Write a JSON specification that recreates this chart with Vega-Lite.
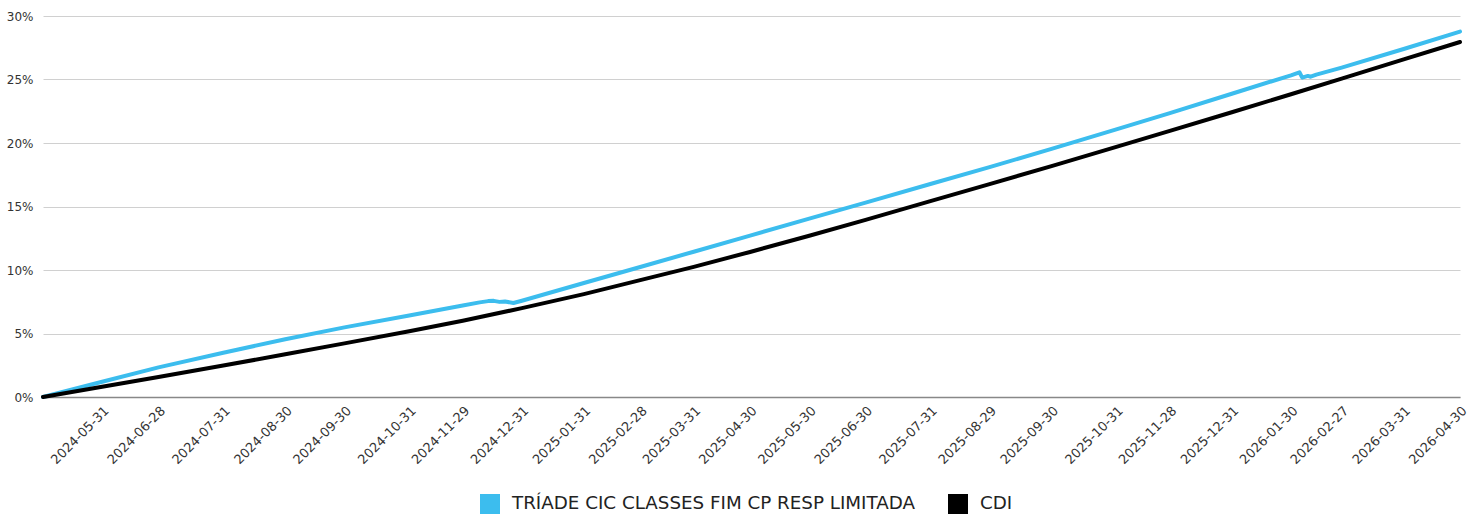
{
  "$schema": "https://vega.github.io/schema/vega-lite/v6.json",
  "width": 1417,
  "height": 381,
  "autosize": {"type": "none"},
  "padding": {"left": 43, "top": 16, "right": 21, "bottom": 119},
  "background": "white",
  "config": {
    "view": {"stroke": null},
    "font": "DejaVu Sans"
  },
  "data": {
    "values": [
      {"date": "2024-04-30", "d": 0, "series": "TRÍADE CIC CLASSES FIM CP RESP LIMITADA", "value": 0},
      {"date": "2024-05-31", "d": 21, "series": "TRÍADE CIC CLASSES FIM CP RESP LIMITADA", "value": 1.2},
      {"date": "2024-06-28", "d": 41, "series": "TRÍADE CIC CLASSES FIM CP RESP LIMITADA", "value": 2.33},
      {"date": "2024-07-31", "d": 64, "series": "TRÍADE CIC CLASSES FIM CP RESP LIMITADA", "value": 3.48},
      {"date": "2024-08-30", "d": 86, "series": "TRÍADE CIC CLASSES FIM CP RESP LIMITADA", "value": 4.55},
      {"date": "2024-09-30", "d": 107, "series": "TRÍADE CIC CLASSES FIM CP RESP LIMITADA", "value": 5.48},
      {"date": "2024-10-31", "d": 130, "series": "TRÍADE CIC CLASSES FIM CP RESP LIMITADA", "value": 6.42},
      {"date": "2024-11-29", "d": 149, "series": "TRÍADE CIC CLASSES FIM CP RESP LIMITADA", "value": 7.2},
      {"date": "2024-12-09", "d": 155, "series": "TRÍADE CIC CLASSES FIM CP RESP LIMITADA", "value": 7.45},
      {"date": "2024-12-12", "d": 158, "series": "TRÍADE CIC CLASSES FIM CP RESP LIMITADA", "value": 7.55},
      {"date": "2024-12-16", "d": 160, "series": "TRÍADE CIC CLASSES FIM CP RESP LIMITADA", "value": 7.57},
      {"date": "2024-12-18", "d": 162, "series": "TRÍADE CIC CLASSES FIM CP RESP LIMITADA", "value": 7.49},
      {"date": "2024-12-20", "d": 164, "series": "TRÍADE CIC CLASSES FIM CP RESP LIMITADA", "value": 7.52},
      {"date": "2024-12-26", "d": 167, "series": "TRÍADE CIC CLASSES FIM CP RESP LIMITADA", "value": 7.4},
      {"date": "2024-12-31", "d": 170, "series": "TRÍADE CIC CLASSES FIM CP RESP LIMITADA", "value": 7.58},
      {"date": "2025-01-31", "d": 192, "series": "TRÍADE CIC CLASSES FIM CP RESP LIMITADA", "value": 8.98},
      {"date": "2025-02-28", "d": 212, "series": "TRÍADE CIC CLASSES FIM CP RESP LIMITADA", "value": 10.24},
      {"date": "2025-03-31", "d": 231, "series": "TRÍADE CIC CLASSES FIM CP RESP LIMITADA", "value": 11.44},
      {"date": "2025-04-30", "d": 251, "series": "TRÍADE CIC CLASSES FIM CP RESP LIMITADA", "value": 12.71},
      {"date": "2025-05-30", "d": 272, "series": "TRÍADE CIC CLASSES FIM CP RESP LIMITADA", "value": 14.05},
      {"date": "2025-06-30", "d": 292, "series": "TRÍADE CIC CLASSES FIM CP RESP LIMITADA", "value": 15.31},
      {"date": "2025-07-31", "d": 315, "series": "TRÍADE CIC CLASSES FIM CP RESP LIMITADA", "value": 16.77},
      {"date": "2025-08-29", "d": 336, "series": "TRÍADE CIC CLASSES FIM CP RESP LIMITADA", "value": 18.1},
      {"date": "2025-09-30", "d": 358, "series": "TRÍADE CIC CLASSES FIM CP RESP LIMITADA", "value": 19.54},
      {"date": "2025-10-31", "d": 381, "series": "TRÍADE CIC CLASSES FIM CP RESP LIMITADA", "value": 21.07},
      {"date": "2025-11-28", "d": 400, "series": "TRÍADE CIC CLASSES FIM CP RESP LIMITADA", "value": 22.35},
      {"date": "2025-12-31", "d": 422, "series": "TRÍADE CIC CLASSES FIM CP RESP LIMITADA", "value": 23.88},
      {"date": "2026-01-30", "d": 443, "series": "TRÍADE CIC CLASSES FIM CP RESP LIMITADA", "value": 25.33},
      {"date": "2026-02-04", "d": 446, "series": "TRÍADE CIC CLASSES FIM CP RESP LIMITADA", "value": 25.57},
      {"date": "2026-02-05", "d": 447, "series": "TRÍADE CIC CLASSES FIM CP RESP LIMITADA", "value": 25.15},
      {"date": "2026-02-09", "d": 449, "series": "TRÍADE CIC CLASSES FIM CP RESP LIMITADA", "value": 25.28},
      {"date": "2026-02-10", "d": 450, "series": "TRÍADE CIC CLASSES FIM CP RESP LIMITADA", "value": 25.22},
      {"date": "2026-02-12", "d": 452, "series": "TRÍADE CIC CLASSES FIM CP RESP LIMITADA", "value": 25.38},
      {"date": "2026-02-27", "d": 461, "series": "TRÍADE CIC CLASSES FIM CP RESP LIMITADA", "value": 25.94},
      {"date": "2026-03-31", "d": 483, "series": "TRÍADE CIC CLASSES FIM CP RESP LIMITADA", "value": 27.4},
      {"date": "2026-04-30", "d": 503, "series": "TRÍADE CIC CLASSES FIM CP RESP LIMITADA", "value": 28.77},
      {"date": "2024-04-30", "d": 0, "series": "CDI", "value": 0},
      {"date": "2024-05-31", "d": 21, "series": "CDI", "value": 0.8},
      {"date": "2024-06-28", "d": 41, "series": "CDI", "value": 1.58},
      {"date": "2024-07-31", "d": 64, "series": "CDI", "value": 2.48},
      {"date": "2024-08-30", "d": 86, "series": "CDI", "value": 3.36},
      {"date": "2024-09-30", "d": 107, "series": "CDI", "value": 4.22},
      {"date": "2024-10-31", "d": 130, "series": "CDI", "value": 5.18},
      {"date": "2024-11-29", "d": 149, "series": "CDI", "value": 6.0},
      {"date": "2024-12-31", "d": 170, "series": "CDI", "value": 7.0},
      {"date": "2025-01-31", "d": 192, "series": "CDI", "value": 8.1},
      {"date": "2025-02-28", "d": 212, "series": "CDI", "value": 9.2},
      {"date": "2025-03-31", "d": 231, "series": "CDI", "value": 10.25},
      {"date": "2025-04-30", "d": 251, "series": "CDI", "value": 11.42},
      {"date": "2025-05-30", "d": 272, "series": "CDI", "value": 12.7},
      {"date": "2025-06-30", "d": 292, "series": "CDI", "value": 13.95},
      {"date": "2025-07-31", "d": 315, "series": "CDI", "value": 15.42},
      {"date": "2025-08-29", "d": 336, "series": "CDI", "value": 16.76},
      {"date": "2025-09-30", "d": 358, "series": "CDI", "value": 18.18},
      {"date": "2025-10-31", "d": 381, "series": "CDI", "value": 19.7},
      {"date": "2025-11-28", "d": 400, "series": "CDI", "value": 20.96},
      {"date": "2025-12-31", "d": 422, "series": "CDI", "value": 22.42},
      {"date": "2026-01-30", "d": 443, "series": "CDI", "value": 23.84},
      {"date": "2026-02-27", "d": 461, "series": "CDI", "value": 25.07},
      {"date": "2026-03-31", "d": 483, "series": "CDI", "value": 26.58},
      {"date": "2026-04-30", "d": 503, "series": "CDI", "value": 27.95}
    ]
  },
  "encoding": {
    "x": {
      "field": "d",
      "type": "quantitative",
      "title": null,
      "scale": {"domain": [0, 503], "nice": false, "zero": false},
      "axis": {
        "values": [21, 41, 64, 86, 107, 130, 149, 170, 192, 212, 231, 251, 272, 292, 315, 336, 358, 381, 400, 422, 443, 461, 483, 503],
        "labelExpr": "['2024-05-31','2024-06-28','2024-07-31','2024-08-30','2024-09-30','2024-10-31','2024-11-29','2024-12-31','2025-01-31','2025-02-28','2025-03-31','2025-04-30','2025-05-30','2025-06-30','2025-07-31','2025-08-29','2025-09-30','2025-10-31','2025-11-28','2025-12-31','2026-01-30','2026-02-27','2026-03-31','2026-04-30'][indexof([21,41,64,86,107,130,149,170,192,212,231,251,272,292,315,336,358,381,400,422,443,461,483,503], datum.value)]",
        "labelAngle": -45,
        "labelAlign": "right",
        "labelBaseline": "top",
        "labelPadding": 7,
        "labelFontSize": 13,
        "labelColor": "#333333",
        "labelOverlap": false,
        "labelBound": false,
        "labelFlush": false,
        "ticks": false,
        "grid": false,
        "domain": true,
        "domainColor": "#888888",
        "domainWidth": 1.5
      }
    },
    "y": {
      "field": "value",
      "type": "quantitative",
      "title": null,
      "scale": {"domain": [0, 30], "nice": false},
      "axis": {
        "values": [0, 5, 10, 15, 20, 25, 30],
        "labelExpr": "datum.value + '%'",
        "labelFontSize": 12,
        "labelColor": "#333333",
        "labelPadding": 10,
        "ticks": false,
        "domain": false,
        "grid": true,
        "gridColor": "#d0d0d0",
        "gridWidth": 1
      }
    },
    "color": {
      "field": "series",
      "type": "nominal",
      "scale": {
        "domain": ["TRÍADE CIC CLASSES FIM CP RESP LIMITADA", "CDI"],
        "range": ["#3cbdee", "#000000"]
      },
      "legend": {
        "title": null,
        "orient": "none",
        "legendX": 437,
        "legendY": 478,
        "direction": "horizontal",
        "symbolType": "square",
        "symbolSize": 400,
        "symbolStrokeWidth": 0,
        "labelFontSize": 18.3,
        "labelLimit": 0,
        "labelColor": "#222222",
        "labelOffset": 12,
        "columnPadding": 32,
        "encode": {
          "symbols": {
            "update": {
              "fill": {"scale": "color", "field": "value"},
              "strokeWidth": {"value": 0}
            }
          }
        }
      }
    }
  },
  "layer": [
    {
      "transform": [{"filter": "datum.series !== 'CDI'"}],
      "mark": {"type": "line", "strokeWidth": 4, "strokeCap": "round", "strokeJoin": "round"}
    },
    {
      "transform": [{"filter": "datum.series === 'CDI'"}],
      "mark": {"type": "line", "strokeWidth": 4, "strokeCap": "round", "strokeJoin": "round"}
    }
  ]
}
